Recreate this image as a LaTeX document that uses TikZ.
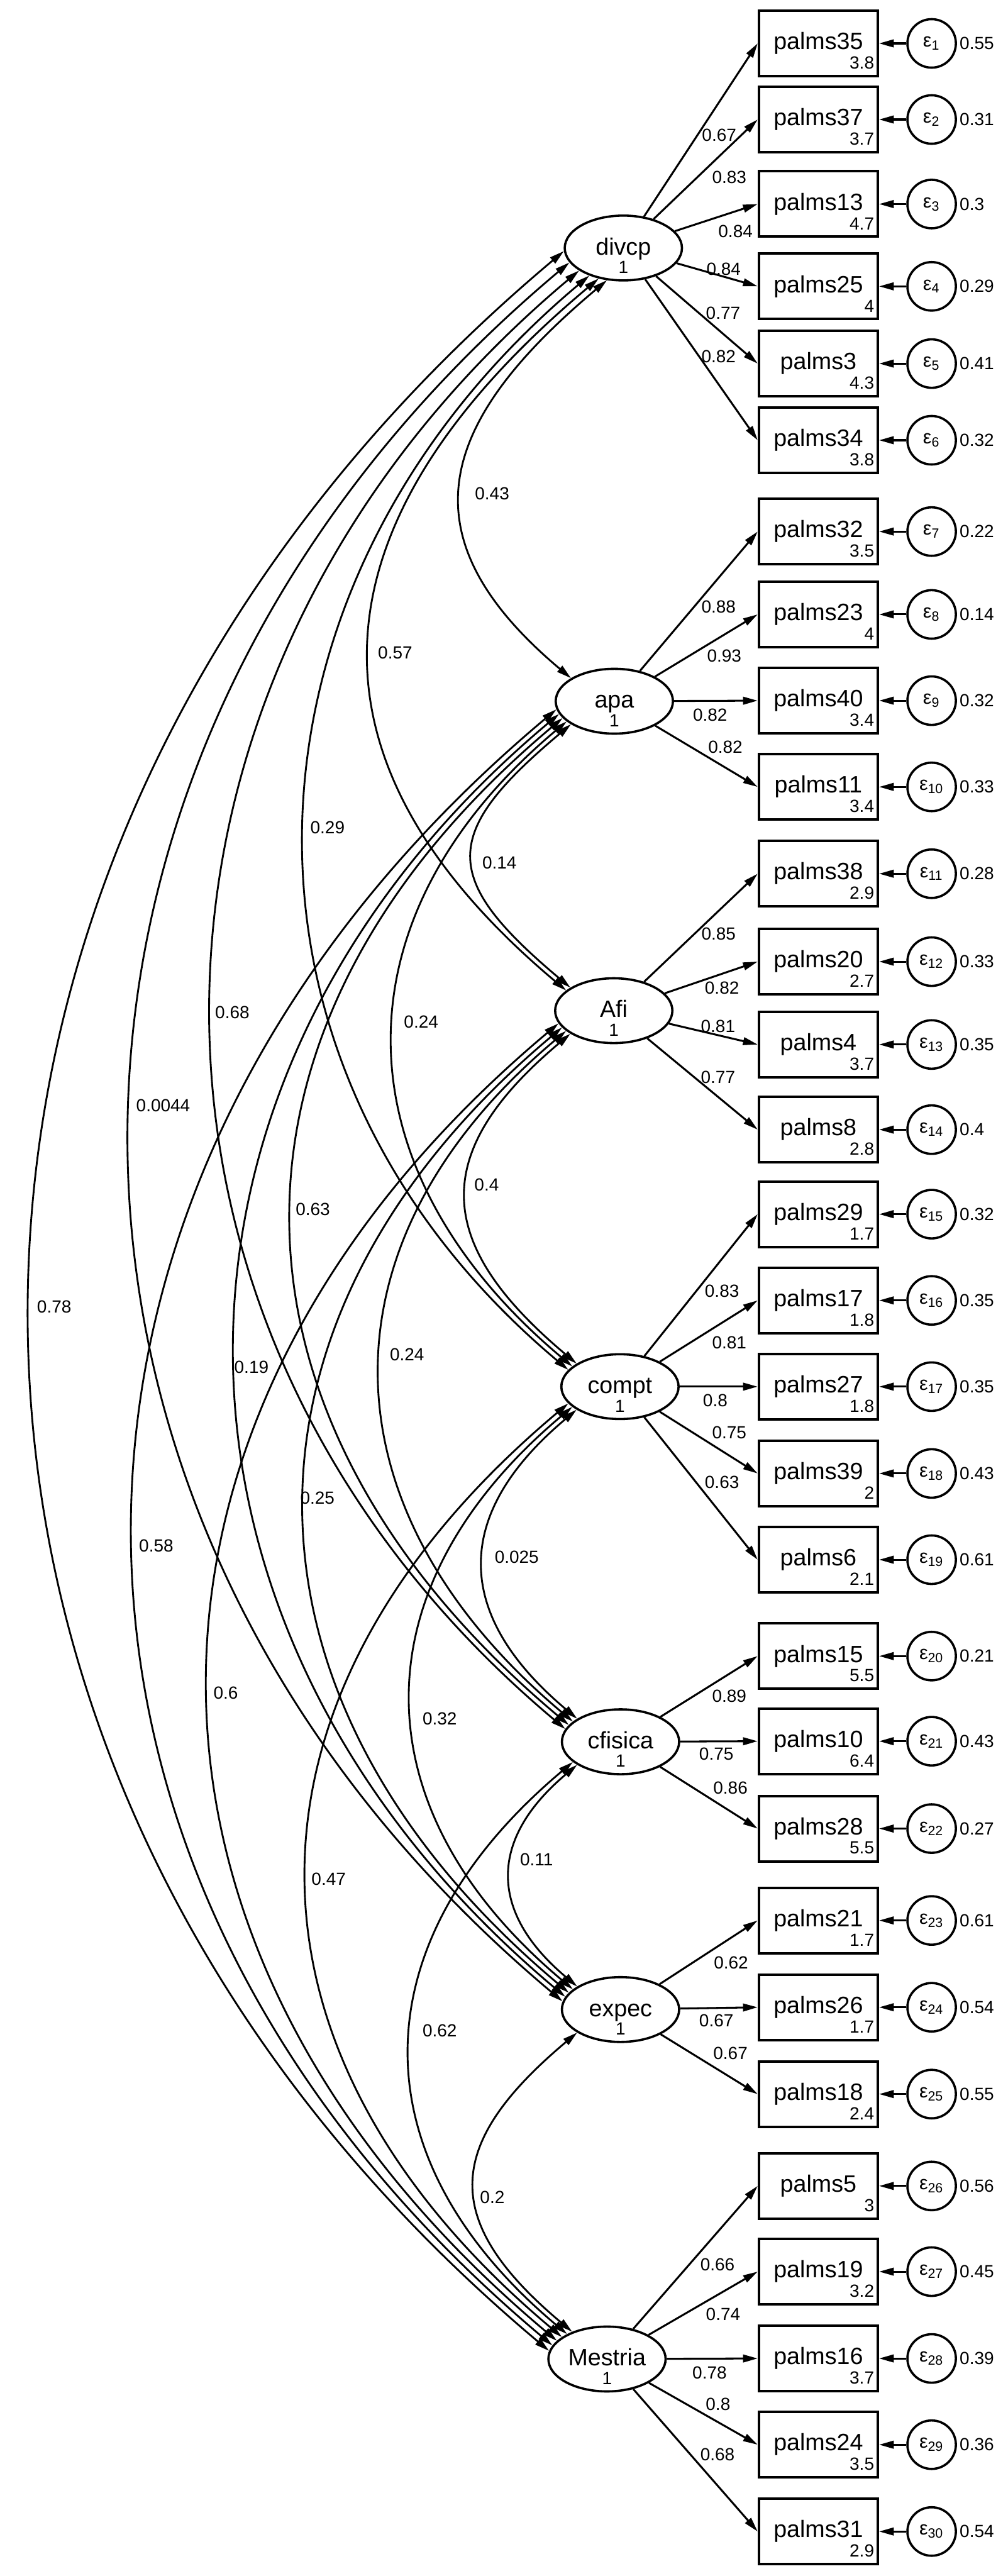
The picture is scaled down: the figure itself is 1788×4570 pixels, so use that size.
\documentclass[tikz,border=0pt]{standalone}
\usepackage{fontspec}
\setmainfont{Liberation Sans}
\usetikzlibrary{arrows.meta,shapes.geometric,calc}
\tikzset{
 lat/.style={ellipse, draw, line width=1pt, minimum width=52pt, minimum height=28.75pt, inner sep=0pt},
 obs/.style={rectangle, draw, line width=1.1pt, minimum width=52.75pt, minimum height=29pt, inner sep=0pt, font=\fontsize{10.5}{12}\selectfont},
 err/.style={circle, draw, line width=1pt, minimum size=21.5pt, inner sep=0pt, font=\fontsize{8.5}{9}\selectfont},
 latname/.style={font=\fontsize{10.5}{12}\selectfont, inner sep=0pt},
 small/.style={font=\fontsize{7.8}{9}\selectfont, inner sep=0pt},
 load/.style={-{Triangle[length=6.5pt,width=3.4pt]}, line width=0.85pt},
 cov/.style={{Triangle[length=6.5pt,width=3.4pt]}-{Triangle[length=6.5pt,width=3.4pt]}, line width=0.8pt},
}
\newcommand\latv[4]{%
 \node[lat] (#1) at (#2,-#3) {};
 \node[latname, anchor=base] (#1N) at (#2,-#3-12) {#4};
 \node[small, anchor=base] (#1O) at (#2,-#3-45) {1};
}
\newcommand\indrow[9]{%
 \node[obs] (b#1) at (1452,-#2) {#3};
 \node[small, anchor=south east] (m#1) at ([xshift=-2pt,yshift=3.5pt]b#1.south east) {#4};
 \node[err] (e#1) at (1653,-#2) {\raisebox{-1.5pt}{ε\textsubscript{#5}}};
 \node[small, anchor=west] (v#1) at (1702,-#2) {#6};
 \draw[load] (e#1) -- (b#1.east);
 \draw[load] (#7) -- (b#1.west);
 \node[small] (l#1) at (#9) {#8};
}
\newcommand\covarc[8]{%
 \draw[cov] let \p1=(#1.#2), \p2=(#3.#4), \n1={((\x1+\x2)/2-#5*0.25pt)/(0.75*cos(40))} in
   (\p1) .. controls +(220:\n1) and +(140:\n1) .. (\p2);
 \node[small, anchor=west] (c#1#3) at (#7,-#8) {#6};
}
\begin{document}
\begin{tikzpicture}[x=0.25pt,y=0.25pt]
\path[use as bounding box] (0,0) rectangle (1788,-4570);
\latv{divcp}{1106}{440}{divcp}
\latv{apa}{1090}{1244}{apa}
\latv{Afi}{1089}{1793}{Afi}
\latv{compt}{1100}{2460}{compt}
\latv{cfisica}{1101}{3090}{cfisica}
\latv{expec}{1101}{3565}{expec}
\latv{Mestria}{1077}{4185}{Mestria}

\indrow{35}{77}{palms35}{3.8}{1}{0.55}{divcp}{0.67}{1276,-240}
\indrow{37}{212}{palms37}{3.7}{2}{0.31}{divcp}{0.83}{1294,-315}
\indrow{13}{362}{palms13}{4.7}{3}{0.3}{divcp}{0.84}{1305,-411}
\indrow{25}{508}{palms25}{4}{4}{0.29}{divcp}{0.84}{1284,-477}
\indrow{3}{645}{palms3}{4.3}{5}{0.41}{divcp}{0.77}{1283,-556}
\indrow{34}{781}{palms34}{3.8}{6}{0.32}{divcp}{0.82}{1275,-633}

\indrow{32}{943}{palms32}{3.5}{7}{0.22}{apa}{0.88}{1275,-1077}
\indrow{23}{1090}{palms23}{4}{8}{0.14}{apa}{0.93}{1285,-1163}
\indrow{40}{1243}{palms40}{3.4}{9}{0.32}{apa}{0.82}{1260,-1268}
\indrow{11}{1396}{palms11}{3.4}{10}{0.33}{apa}{0.82}{1287,-1325}

\indrow{38}{1550}{palms38}{2.9}{11}{0.28}{Afi}{0.85}{1275,-1657}
\indrow{20}{1706}{palms20}{2.7}{12}{0.33}{Afi}{0.82}{1281,-1753}
\indrow{4}{1853}{palms4}{3.7}{13}{0.35}{Afi}{0.81}{1274,-1821}
\indrow{8}{2004}{palms8}{2.8}{14}{0.4}{Afi}{0.77}{1274,-1911}

\indrow{29}{2154}{palms29}{1.7}{15}{0.32}{compt}{0.83}{1281,-2290}
\indrow{17}{2307}{palms17}{1.8}{16}{0.35}{compt}{0.81}{1294,-2382}
\indrow{27}{2460}{palms27}{1.8}{17}{0.35}{compt}{0.8}{1269,-2485}
\indrow{39}{2614}{palms39}{2}{18}{0.43}{compt}{0.75}{1294,-2542}
\indrow{6}{2767}{palms6}{2.1}{19}{0.61}{compt}{0.63}{1281,-2630}

\indrow{15}{2938}{palms15}{5.5}{20}{0.21}{cfisica}{0.89}{1294,-3009}
\indrow{10}{3089}{palms10}{6.4}{21}{0.43}{cfisica}{0.75}{1271,-3112}
\indrow{28}{3244}{palms28}{5.5}{22}{0.27}{cfisica}{0.86}{1296,-3172}

\indrow{21}{3407}{palms21}{1.7}{23}{0.61}{expec}{0.62}{1297,-3482}
\indrow{26}{3561}{palms26}{1.7}{24}{0.54}{expec}{0.67}{1271,-3585}
\indrow{18}{3715}{palms18}{2.4}{25}{0.55}{expec}{0.67}{1296,-3643}

\indrow{5}{3878}{palms5}{3}{26}{0.56}{Mestria}{0.66}{1273,-4017}
\indrow{19}{4030}{palms19}{3.2}{27}{0.45}{Mestria}{0.74}{1283,-4106}
\indrow{16}{4184}{palms16}{3.7}{28}{0.39}{Mestria}{0.78}{1259,-4209}
\indrow{24}{4337}{palms24}{3.5}{29}{0.36}{Mestria}{0.8}{1274,-4265}
\indrow{31}{4491}{palms31}{2.9}{30}{0.54}{Mestria}{0.68}{1273,-4354}

\covarc{divcp}{243}{apa}{152}{820}{0.43}{842}{876}
\covarc{divcp}{231}{Afi}{157}{657}{0.57}{670}{1158}
\covarc{divcp}{219}{compt}{162}{541}{0.29}{550}{1468}
\covarc{divcp}{207}{cfisica}{167}{376}{0.68}{381}{1796}
\covarc{divcp}{195}{expec}{172}{231}{0.0044}{241}{1961}
\covarc{divcp}{183}{Mestria}{172}{54}{0.78}{65}{2318}
\covarc{apa}{208}{Afi}{152}{839}{0.14}{855}{1531}
\covarc{apa}{203}{compt}{157}{698}{0.24}{716}{1813}
\covarc{apa}{198}{cfisica}{162}{518}{0.63}{524}{2145}
\covarc{apa}{193}{expec}{167}{418}{0.19}{415}{2425}
\covarc{apa}{188}{Mestria}{166}{237}{0.58}{246}{2742}
\covarc{Afi}{208}{compt}{152}{828}{0.4}{841}{2102}
\covarc{Afi}{203}{cfisica}{157}{675}{0.24}{691}{2403}
\covarc{Afi}{198}{expec}{162}{541}{0.25}{532}{2657}
\covarc{Afi}{193}{Mestria}{160}{370}{0.6}{378}{3003}
\covarc{compt}{208}{cfisica}{152}{858}{0.025}{877}{2762}
\covarc{compt}{203}{expec}{157}{730}{0.32}{749}{3049}
\covarc{compt}{198}{Mestria}{154}{545}{0.47}{552}{3334}
\covarc{cfisica}{208}{expec}{152}{906}{0.11}{922}{3299}
\covarc{cfisica}{203}{Mestria}{148}{728}{0.62}{749}{3603}
\covarc{expec}{208}{Mestria}{142}{843}{0.2}{851}{3898}
\end{tikzpicture}
\end{document}
